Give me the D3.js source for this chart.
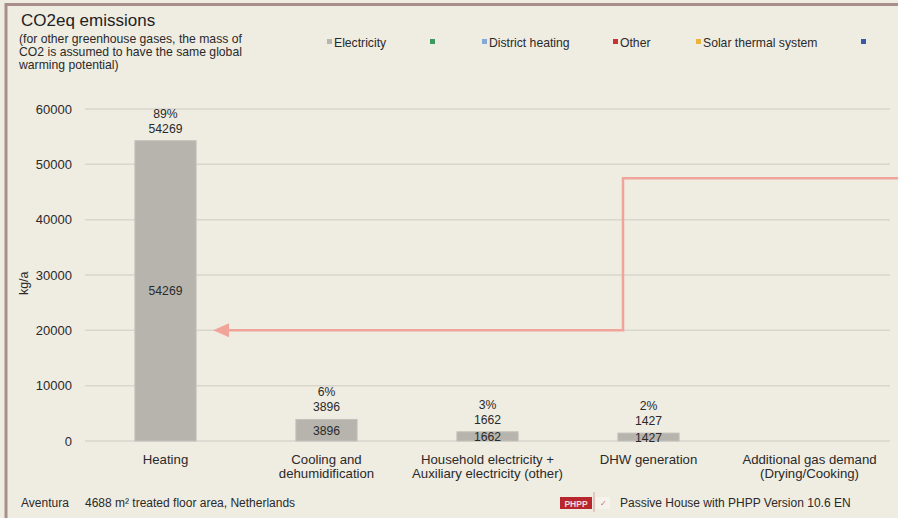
<!DOCTYPE html>
<html>
<head>
<meta charset="utf-8">
<script src="https://cdn.jsdelivr.net/npm/d3@7"></script>
<style>
  html, body { margin: 0; padding: 0; background: #efece2; }
  svg { display: block; font-family: "Liberation Sans", Arial, Helvetica, sans-serif; }
</style>
</head>
<body>
<svg id="chart" width="898" height="518"></svg>
<script>
// CO2eq emissions by use, kg/a
const categories = [
  ["Heating"],
  ["Cooling and", "dehumidification"],
  ["Household electricity +", "Auxiliary electricity (other)"],
  ["DHW generation"],
  ["Additional gas demand", "(Drying/Cooking)"]
];
const electricity = [54269, 3896, 1662, 1427, 0];
const yTicks = [0, 10000, 20000, 30000, 40000, 50000, 60000];
const legendItems = [
  { label: "Electricity", color: "#b8b5ae" },
  { label: "", color: "#3d9a5e" },
  { label: "District heating", color: "#86aad6" },
  { label: "Other", color: "#c73338" },
  { label: "Solar thermal system", color: "#eab43c" },
  { label: "", color: "#3b57a6" }
];
const legendX = [327, 430, 482, 613, 696, 861];

const svg = d3.select("#chart");
const W = 898, H = 518;
const margin = { left: 85, right: 8, top: 109, bottom: 77 };

// frame
svg.append("rect").attr("x", 0).attr("y", 0).attr("width", W).attr("height", H).attr("fill", "#efece2");
svg.append("line").attr("x1", 5).attr("x2", W).attr("y1", 4.5).attr("y2", 4.5)
  .attr("stroke", "#a88f8c").attr("stroke-width", 3);
svg.append("line").attr("x1", 6).attr("x2", 6).attr("y1", 3).attr("y2", H)
  .attr("stroke", "#a88f8c").attr("stroke-width", 3);

const keys = categories.map(c => c.join(" "));
const x = d3.scaleBand().domain(keys).range([margin.left, W - margin.right])
  .paddingInner(0.62).paddingOuter(0.31);
const y = d3.scaleLinear().domain([0, 60000]).range([H - margin.bottom, margin.top]);

// gridlines
svg.append("g").selectAll("line").data(yTicks).join("line")
  .attr("x1", margin.left).attr("x2", W - margin.right)
  .attr("y1", d => y(d)).attr("y2", d => y(d))
  .attr("stroke", "#d9d6cc").attr("stroke-width", 1.5);

// y axis labels
const yAxis = d3.axisLeft(y).tickValues(yTicks).tickFormat(d3.format("d")).tickSize(0).tickPadding(0);
const ya = svg.append("g").attr("transform", "translate(72,0)").call(yAxis);
ya.select(".domain").remove();
ya.selectAll("text").attr("font-size", 13).attr("fill", "#2a2a2a")
  .attr("font-family", "Liberation Sans, Arial, sans-serif");

svg.append("text").attr("transform", `translate(28,${y(28500)}) rotate(-90)`)
  .attr("text-anchor", "middle").attr("font-size", 12.5).attr("fill", "#2a2a2a").text("kg/a");

// bars
const total = d3.sum(electricity);
const pct = d3.format(".0%");
const data = keys.map((k, i) => ({ key: k, lines: categories[i], v: electricity[i] }));

svg.append("g").selectAll("rect").data(data.filter(d => d.v > 0)).join("rect")
  .attr("x", d => x(d.key)).attr("width", x.bandwidth())
  .attr("y", d => y(d.v)).attr("height", d => y(0) - y(d.v))
  .attr("fill", "#b6b4ad").attr("stroke", "#c3c1ba").attr("stroke-width", 1);

const lbl = svg.append("g").attr("font-size", 12.2).attr("fill", "#2a2a2a").attr("text-anchor", "middle");
data.filter(d => d.v > 0).forEach(d => {
  const cx = x(d.key) + x.bandwidth() / 2;
  lbl.append("text").attr("x", cx).attr("y", y(d.v) - 23).text(pct(d.v / total));
  lbl.append("text").attr("x", cx).attr("y", y(d.v) - 8).text(d.v);
  lbl.append("text").attr("x", cx).attr("y", (y(d.v) + y(0)) / 2 + 4.5).text(d.v);
});

// category labels
const cat = svg.append("g").attr("font-size", 13.2).attr("fill", "#2a2a2a").attr("text-anchor", "middle");
data.forEach(d => {
  const cx = x(d.key) + x.bandwidth() / 2;
  d.lines.forEach((t, j) => {
    cat.append("text").attr("x", cx).attr("y", y(0) + 22.5 + j * 14.5).text(t);
  });
});

// title and note
svg.append("text").attr("x", 21).attr("y", 26).attr("font-size", 17).attr("fill", "#222").text("CO2eq emissions");
["(for other greenhouse gases, the mass of", "CO2 is assumed to have the same global", "warming potential)"]
  .forEach((t, i) => svg.append("text").attr("x", 19).attr("y", 42.5 + i * 13.3)
    .attr("font-size", 12.2).attr("fill", "#2a2a2a").text(t));

// legend
const lg = svg.append("g");
legendItems.forEach((d, i) => {
  lg.append("rect").attr("x", legendX[i]).attr("y", 39).attr("width", 5).attr("height", 5).attr("fill", d.color);
  if (d.label) lg.append("text").attr("x", legendX[i] + 7).attr("y", 46.5)
    .attr("font-size", 12.2).attr("fill", "#2a2a2a").text(d.label);
});

// arrow annotation pointing at the heating bar
const arrowY = y(20000), topY = y(47500), elbowX = 623;
const tipX = x(keys[0]) + x.bandwidth() + 17;
svg.append("path")
  .attr("d", `M${W},${topY} H${elbowX} V${arrowY} H${tipX + 14}`)
  .attr("fill", "none").attr("stroke", "#f0a49a").attr("stroke-width", 2.5);
svg.append("path")
  .attr("d", `M${tipX},${arrowY} L${tipX + 16},${arrowY - 7} L${tipX + 16},${arrowY + 7} Z`)
  .attr("fill", "#f0a49a");

// footer
const ft = svg.append("g").attr("font-size", 12).attr("fill", "#2a2a2a");
ft.append("text").attr("x", 21).attr("y", 507).text("Aventura");
ft.append("text").attr("x", 85).attr("y", 507).text("4688 m² treated floor area, Netherlands");
svg.append("rect").attr("x", 560).attr("y", 497).attr("width", 32).attr("height", 12).attr("fill", "#b8262d");
svg.append("text").attr("x", 576).attr("y", 506.5).attr("text-anchor", "middle").attr("font-size", 8.5)
  .attr("font-weight", "bold").attr("fill", "#f3dada").text("PHPP");
svg.append("line").attr("x1", 594).attr("x2", 594).attr("y1", 492).attr("y2", 512)
  .attr("stroke", "#d9a0a0").attr("stroke-width", 1);
svg.append("rect").attr("x", 596).attr("y", 497).attr("width", 14).attr("height", 12).attr("fill", "#f6f3ec");
svg.append("text").attr("x", 603).attr("y", 506).attr("text-anchor", "middle").attr("font-size", 8)
  .attr("fill", "#d07070").text("✓");
ft.append("text").attr("x", 620).attr("y", 507).text("Passive House with PHPP Version 10.6 EN");
</script>
</body>
</html>
